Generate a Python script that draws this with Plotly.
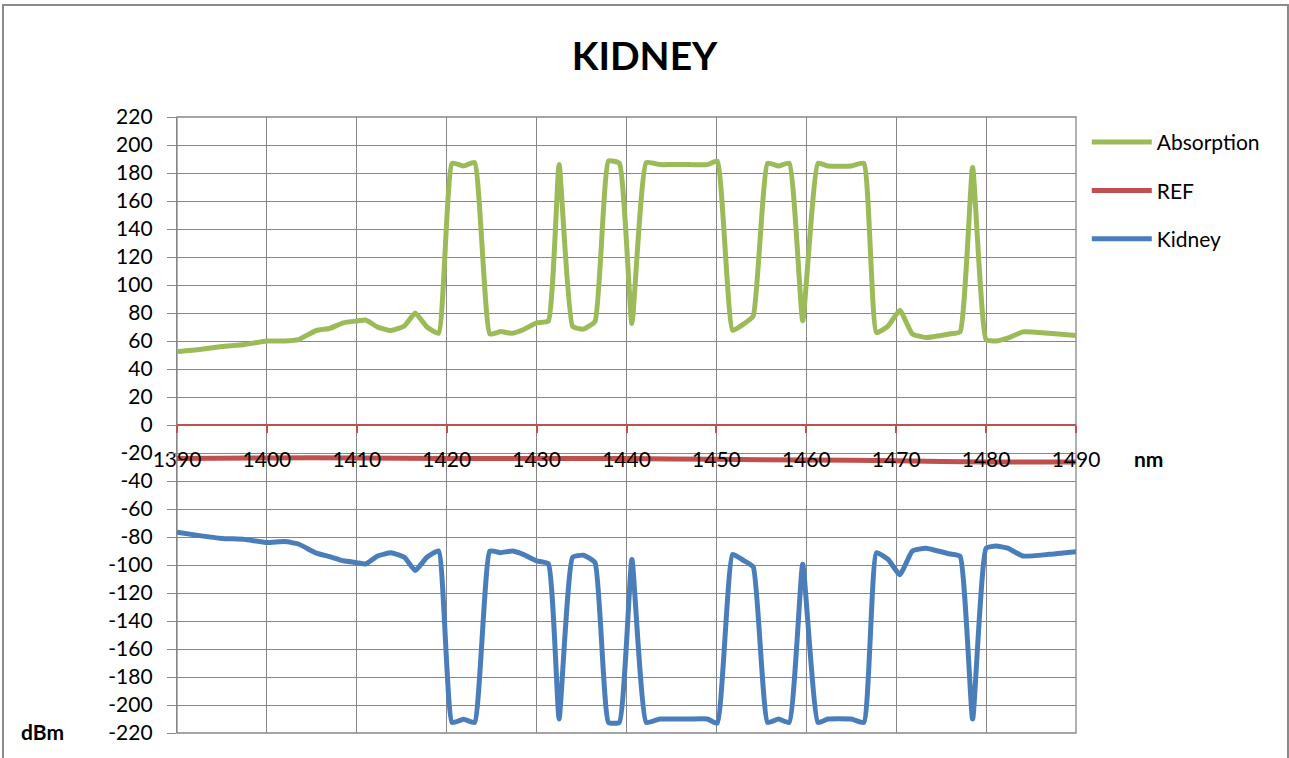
import plotly.graph_objects as go

# Wavelength grid (nm) shared by the measured curves
wavelength_nm = [
    1390, 1392.5, 1395, 1397.5, 1400, 1402, 1403.5, 1405.5, 1407, 1408.5,
    1410, 1411, 1412.3, 1413.8, 1415.3, 1416.5, 1417.8, 1419.1, 1420.6, 1421.9,
    1423.1, 1424.8, 1426, 1427.3, 1428.5, 1430, 1431.3, 1432.5, 1434, 1435.2,
    1436.5, 1438, 1439.2, 1440.6, 1442.2, 1443.7, 1445, 1447, 1449, 1450.1,
    1451.8, 1453, 1454.1, 1455.7, 1456.9, 1458.1, 1459.6, 1461.3, 1462.4, 1465,
    1466.4, 1467.8, 1469.1, 1470.4, 1471.8, 1473.3, 1475.9, 1477.1, 1478.5, 1480,
    1481.1, 1482.4, 1484.1, 1487, 1490,
]

absorption = [
    52.5, 54, 56, 57.5, 60, 60, 61, 67.5, 69, 73,
    74.3, 75, 70, 67.5, 70.7, 80, 70, 65.5, 187, 185,
    187.5, 65, 66.7, 65.5, 68, 73, 74.3, 186, 70.5, 68.5,
    74, 188.5, 187, 72.5, 187.5, 186, 186, 186, 186, 188.5,
    67.6, 72, 78, 187, 185, 187, 74.5, 187, 185, 185,
    187, 66, 70.7, 82, 65, 62.5, 65, 66.5, 184, 61,
    60, 62, 66.5, 65.5, 64,
]

kidney = [
    -76.5, -79, -81, -81.7, -84, -83.3, -85, -91.5, -94, -97,
    -98.3, -99.3, -93.6, -91.2, -94.5, -104, -94.5, -90, -212.5, -210.2,
    -212.5, -90, -91.2, -90, -92.4, -97, -99, -210, -94.5, -93,
    -98.3, -212.5, -212.5, -96, -212.5, -210, -210, -210, -210, -213,
    -92.4, -96.7, -101.4, -212.5, -210, -212.5, -99.5, -212.5, -210, -210,
    -212.5, -91.2, -96, -107, -90, -88, -92, -93.6, -210, -88,
    -86.4, -88, -93.6, -92.4, -90.5,
]

# Reference trace, sampled every 10 nm
ref_nm = [1390, 1400, 1410, 1420, 1430, 1440, 1450, 1460, 1470, 1480, 1490]
ref_dbm = [-24, -23.5, -23.5, -24, -24, -24, -24.5, -25, -25.5, -26.5, -26.5]

x_ticks = list(range(1390, 1491, 10))
y_ticks = list(range(-220, 221, 20))
y_tick_text = [str(v) for v in y_ticks]

GREEN = "#9BBB59"
RED = "#C0504D"
BLUE = "#4A7EBB"
GRID = "#878787"
FONT = "Lato"

fig = go.Figure()
fig.add_trace(go.Scatter(
    x=wavelength_nm, y=absorption, name="Absorption", mode="lines",
    line=dict(color=GREEN, width=5, shape="spline", smoothing=0.4),
    legendgroup="a",
))
fig.add_trace(go.Scatter(
    x=ref_nm, y=ref_dbm, name="REF", mode="lines",
    line=dict(color=RED, width=5, shape="spline", smoothing=0.4),
    legendgroup="b",
))
fig.add_trace(go.Scatter(
    x=wavelength_nm, y=kidney, name="Kidney", mode="lines",
    line=dict(color=BLUE, width=5, shape="spline", smoothing=0.4),
    legendgroup="c",
))

fig.update_layout(
    width=1289, height=758,
    margin=dict(l=177, r=213, t=117, b=25),
    paper_bgcolor="white", plot_bgcolor="white",
    font=dict(family=FONT, size=21, color="black"),
    title=dict(
        text="<b>KIDNEY</b>", x=0.5, xref="container", xanchor="center",
        y=1 - 56 / 758, yref="container", yanchor="middle",
        font=dict(family=FONT, size=39, color="black"),
    ),
    showlegend=True,
    legend=dict(
        x=1.012, xanchor="left", y=0.992, yanchor="top",
        font=dict(family=FONT, size=21, color="black"),
        tracegroupgap=18, traceorder="grouped",
        bgcolor="rgba(0,0,0,0)", itemwidth=60,
    ),
    xaxis=dict(
        range=[1390, 1490], tickvals=x_ticks,
        anchor="free", position=0.5, side="bottom",
        showline=True, linecolor=RED, linewidth=1.5,
        ticks="outside", tickcolor=RED, ticklen=7, tickwidth=1.5,
        ticklabelstandoff=9,
        showgrid=True, gridcolor=GRID, gridwidth=1.3,
        zeroline=False,
        tickfont=dict(family=FONT, size=21, color="black"),
    ),
    yaxis=dict(
        range=[-220, 220], tickvals=y_ticks, ticktext=y_tick_text,
        showline=True, linecolor=GRID, linewidth=1.3,
        ticks="outside", tickcolor=GRID, ticklen=9, tickwidth=1.3,
        ticklabelstandoff=10,
        showgrid=True, gridcolor=GRID, gridwidth=1.3,
        zeroline=False,
        tickfont=dict(family=FONT, size=21, color="black"),
    ),
)

# Plot-area frame and outer chart border
fig.add_shape(type="rect", xref="x domain", yref="y domain",
              x0=0, x1=1, y0=0, y1=1, line=dict(color=GRID, width=1.3),
              layer="below")
fig.add_shape(type="rect", xref="paper", yref="paper",
              x0=(3 - 177) / 899, x1=(1288 - 177) / 899,
              y0=(733 - 770) / 616, y1=(733 - 5) / 616,
              line=dict(color="#8a8a8a", width=2))

# Axis unit labels
fig.add_annotation(text="<b>nm</b>", xref="paper", yref="paper",
                   x=(1148 - 177) / 899, y=(733 - 458) / 616,
                   showarrow=False, xanchor="center", yanchor="middle",
                   font=dict(family=FONT, size=21, color="black"))
fig.add_annotation(text="<b>dBm</b>", xref="paper", yref="paper",
                   x=(42 - 177) / 899, y=(733 - 731) / 616,
                   showarrow=False, xanchor="center", yanchor="middle",
                   font=dict(family=FONT, size=21, color="black"))

fig.write_html("out.html")
